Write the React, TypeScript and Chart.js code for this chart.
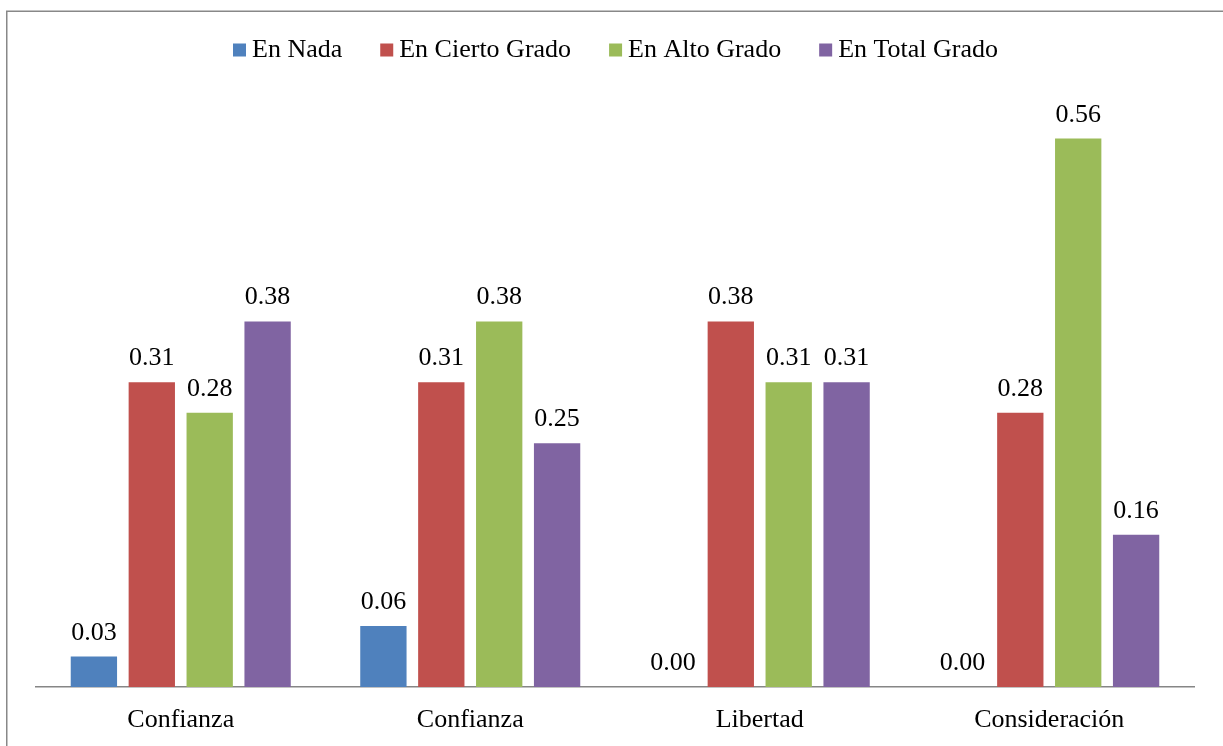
import React, { useEffect, useRef } from "react";
import { Chart, registerables } from "chart.js";

Chart.register(...registerables);

const categories = ["Confianza", "Confianza", "Libertad", "Consideración"];
const seriesNames = ["En Nada", "En Cierto Grado", "En Alto Grado", "En Total Grado"];
const enNada = [0.03125, 0.0625, 0, 0];
const enCiertoGrado = [0.3125, 0.3125, 0.375, 0.28125];
const enAltoGrado = [0.28125, 0.375, 0.3125, 0.5625];
const enTotalGrado = [0.375, 0.25, 0.3125, 0.15625];
const colors = ["#4F81BD", "#C0504D", "#9BBB59", "#8064A2"];

const FONT = '"Liberation Serif", "Times New Roman", serif';

const fmt = (v: number) => (Math.round(v * 100) / 100).toFixed(2);

const framePlugin = {
  id: "frame",
  beforeDraw(chart: any) {
    const ctx = chart.ctx;
    ctx.save();
    ctx.strokeStyle = "#888888";
    ctx.lineWidth = 1.5;
    ctx.strokeRect(6.75, 11.25, 3000, 3000);
    ctx.restore();
  },
};

const legendPlugin = {
  id: "customLegend",
  afterDraw(chart: any) {
    const ctx = chart.ctx;
    ctx.save();
    ctx.font = `26px ${FONT}`;
    const box = 13;
    const gap = 6;
    const spacing = 38;
    const widths = seriesNames.map((n) => box + gap + ctx.measureText(n).width);
    let x = 233;
    ctx.textBaseline = "alphabetic";
    ctx.textAlign = "left";
    seriesNames.forEach((n, i) => {
      ctx.fillStyle = colors[i];
      ctx.fillRect(x, 43.5, box, box);
      ctx.fillStyle = "#000000";
      ctx.fillText(n, x + box + gap, 57);
      x += widths[i] + spacing;
    });
    ctx.restore();
  },
};

const dataLabelPlugin = {
  id: "dataLabels",
  afterDatasetsDraw(chart: any) {
    const ctx = chart.ctx;
    ctx.save();
    ctx.font = `26px ${FONT}`;
    ctx.fillStyle = "#000000";
    ctx.textAlign = "center";
    ctx.textBaseline = "alphabetic";
    chart.data.datasets.forEach((ds: any, di: number) => {
      const meta = chart.getDatasetMeta(di);
      meta.data.forEach((el: any, i: number) => {
        ctx.fillText(fmt(ds.data[i]), el.x, el.y - 17);
      });
    });
    ctx.restore();
  },
};

export default function App() {
  const ref = useRef<HTMLCanvasElement | null>(null);
  useEffect(() => {
    if (!ref.current) return;
    const series = [enNada, enCiertoGrado, enAltoGrado, enTotalGrado];
    const chart = new Chart(ref.current, {
      type: "bar",
      data: {
        labels: categories,
        datasets: series.map((d, i) => ({
          label: seriesNames[i],
          data: d,
          backgroundColor: colors[i],
          borderWidth: 0,
          categoryPercentage: 0.8,
          barPercentage: 0.8,
        })),
      },
      options: {
        responsive: false,
        animation: false,
        devicePixelRatio: 1,
        layout: { padding: { top: 102, left: 36, right: 29, bottom: 0 } },
        plugins: {
          legend: { display: false },
          tooltip: { enabled: false },
          title: { display: false },
        },
        scales: {
          x: {
            grid: { display: false, drawTicks: false },
            border: { display: true, color: "#868686", width: 1.5 },
            ticks: {
              color: "#000000",
              font: { family: FONT, size: 26 },
              padding: 18,
              maxRotation: 0,
              autoSkip: false,
            },
            afterFit: (scale: any) => {
              scale.height = 59;
            },
          },
          y: {
            display: false,
            min: 0,
            max: 0.6,
          },
        },
      },
      plugins: [framePlugin, legendPlugin, dataLabelPlugin],
    });
    return () => chart.destroy();
  }, []);
  return (
    <div style={{ position: "fixed", top: 0, left: 0, width: 1223, height: 746, background: "#ffffff" }}>
      <canvas ref={ref} width={1223} height={746} style={{ display: "block", width: 1223, height: 746 }} />
    </div>
  );
}
